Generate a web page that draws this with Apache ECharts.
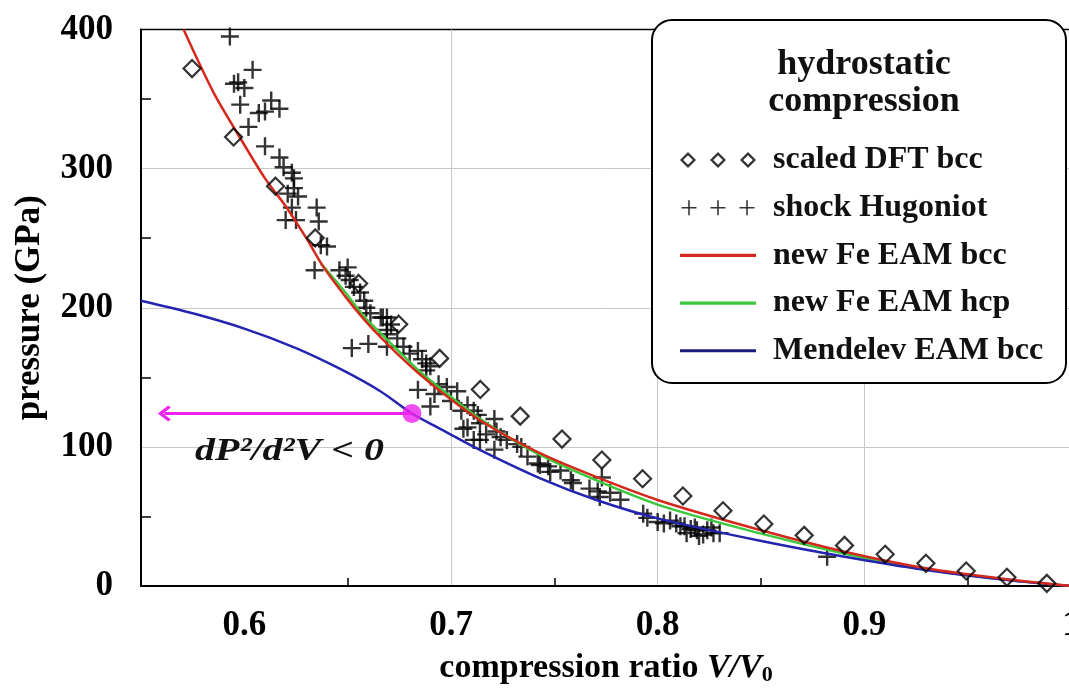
<!DOCTYPE html>
<html><head><meta charset="utf-8">
<script src="https://cdn.jsdelivr.net/npm/echarts@6/dist/echarts.min.js"></script>
<style>html,body{margin:0;padding:0;background:#fff}#c{width:1069px;height:695px}</style>
</head><body><div id="c"></div>
<script>
// ---- tick values ----
const xTickValues = [0.6, 0.7, 0.8, 0.9, 1.0];
const xMinorTickValues = [0.65, 0.75, 0.85, 0.95];
const yMin = 0, yMax = 400, yInterval = 100;

// ---- scaled DFT bcc (diamonds) ----
const dftV = [0.5747,0.5948,0.6151,0.6343,0.6553,0.6747,0.6945,0.7142,0.7335,0.7537,0.7730,0.7927,0.8122,0.8316,0.8514,0.8709,0.8904,0.9101,0.9298,0.9493,0.9690,0.9883];
const dftP = [371.9,322.8,287.4,250.2,217.5,188.2,163.6,141.3,122.1,105.6,90.5,77.1,64.7,54.1,44.5,36.4,29.2,22.8,16.3,10.8,6.3,1.9];

// ---- shock Hugoniot (crosses) ----
const hugV = [0.593,0.604,0.597,0.595,0.600,0.613,0.617,0.598,0.607,0.610,0.602,0.610,0.617,0.619,0.623,
  0.624,0.624,0.621,0.626,0.623,0.635,0.620,0.625,0.636,0.637,0.640,0.634,0.646,0.650,0.649,0.651,0.653,0.656,0.658,0.661,0.669,0.659,0.666,
  0.652,0.660,0.667,0.671,0.669,0.674,0.669,0.669,0.677,0.680,0.684,0.686,0.688,0.690,0.688,0.684,0.692,0.690,0.694,0.698,0.703,0.700,0.705,0.708,0.711,0.713,0.708,0.714,0.706,0.714,0.721,0.722,0.717,0.724,0.727,0.732,0.734,0.711,0.721,0.737,0.742,0.747,
  0.743,0.748,0.753,0.758,0.759,0.767,0.771,0.773,0.772,0.777,0.782,0.793,0.795,0.800,0.803,0.806,0.809,0.811,0.813,0.816,0.818,0.819,0.822,0.824,0.827,0.830,0.814,0.820,0.826,0.882];
const hugP = [395,371,362,361,358,349,343,346,340,341,330,316,308,301,297,
  293,286,282,280,272,272,263,263,262,245,244,227,227,229,223,220,215,211,205,196,193,200,193,
  171,174,193,188,181,178,184,172,172,167,169,163,160,158,155,141,138,129,145,143,140,133,126,130,126,123,114,117,113,105,120,111,109,107,105,102,100,105,98,93,88,86,
  87,82,83,76,74,70,68,78,64,67,62,52,49,46,45,47,45,43,43,41,42,40,37,40,38,38,38,36,42,21];

// ---- new Fe EAM bcc ----
const bccV = [0.5706,0.585,0.5972,0.610,0.620,0.630,0.6384,0.6489,0.6577,0.6658,0.6739,0.685,0.700,0.7142,0.7368,0.760,0.800,0.8496,0.8905,0.9298,0.969,1.0];
const bccP = [400,355,324,293,273,250,229,208,192,179,167,152,134,119,100,84.5,61.8,40.2,24.6,12.7,4.8,0];

// ---- new Fe EAM hcp ----
const hcpV = [0.637,0.6489,0.6577,0.6658,0.6739,0.685,0.700,0.7142,0.7368,0.760,0.800,0.8496,0.8905,0.9298,0.969,1.0];
const hcpP = [232,211,194,182,170,154,136,120,99,82.5,58.5,37.8,23.2,11.8,4.4,0];

// ---- Mendelev EAM bcc ----
const mendV = [0.550,0.575,0.600,0.625,0.6464,0.6658,0.6811,0.6948,0.7142,0.7432,0.770,0.800,0.8496,0.8905,0.9298,0.969,1.0];
const mendP = [205,196,185,171,156,140,124,113,97.7,77.4,62,48.6,32.5,21,11.5,4.3,0];

// ---- inflection marker and arrow ----
const markV = [0.6811], markP = [124];
const arrowEndV = 0.5613;

const zip = (a, b) => a.map((v, i) => [v, b[i]]);
const FONT = '"Liberation Serif","Times New Roman",serif';

const crossPath = 'path://M0,7.8H18V10.2H0Z M7.8,0H10.2V18H7.8Z';
function dia(c){return `M${c},0L${c+8},8L${c},16L${c-8},8Z M${c},3.2L${c-4.8},8L${c},12.8L${c+4.8},8Z`;}
function plus(c){return `M${c-7.5},7.2H${c+7.5}V8.8H${c-7.5}Z M${c-0.8},0.5H${c+0.8}V15.5H${c-0.8}Z`;}
const iconDia = 'path://' + dia(8) + ' ' + dia(38) + ' ' + dia(68);
const iconPlus = 'path://M0,0H0.01V0.01Z M75.99,15.99H76V16H75.99Z ' + plus(9) + ' ' + plus(38) + ' ' + plus(67);
const iconLine = 'path://M0,0H74V3H0Z';

const C_RED = '#d42a1e', C_GREEN = '#3cc83c', C_BLUE = '#2424b0', C_MAG = '#ee22ee';

const chart = echarts.init(document.getElementById('c'), null, {renderer:'canvas'});
chart.setOption({
  animation: false,
  backgroundColor: '#fff',
  grid: {left:141, top:29.5, right:-2, bottom:109, show:true, borderColor:'#000', borderWidth:1.5, containLabel:false, outerBoundsMode:'none'},
  xAxis: [{
    type:'value', min:0.55, max:1.0,
    axisLine:{show:true, onZero:false, lineStyle:{color:'#000', width:2}},
    axisTick:{show:false, customValues:xTickValues},
    axisLabel:{customValues:xTickValues, formatter:v => String(+v.toFixed(2)), fontFamily:FONT, fontWeight:'bold', fontSize:35, color:'#000', margin:22},
    splitLine:{show:true, showMinLine:false, showMaxLine:false, lineStyle:{color:'#c8c8c8', width:1}},
    name:'{a|compression ratio }{i|V/V}{s|0}', nameLocation:'middle', nameGap:64,
    nameTextStyle:{rich:{
      a:{fontFamily:FONT, fontWeight:'bold', fontSize:34, color:'#000'},
      i:{fontFamily:FONT, fontWeight:'bold', fontStyle:'italic', fontSize:34, color:'#000'},
      s:{fontFamily:FONT, fontWeight:'bold', fontSize:22, color:'#000', padding:[14,0,0,0]}
    }}
  },{
    type:'value', min:0.55, max:1.0, position:'bottom',
    axisLine:{show:false},
    axisTick:{show:true, inside:true, length:8, customValues:xMinorTickValues, lineStyle:{color:'#000', width:1.5}},
    axisLabel:{show:false}, splitLine:{show:false}
  }],
  yAxis: {
    type:'value', min:yMin, max:yMax, interval:yInterval,
    axisLine:{show:true, lineStyle:{color:'#000', width:2}},
    axisTick:{show:false, inside:true},
    minorTick:{show:true, splitNumber:2, length:10, lineStyle:{color:'#000', width:1.5}},
    axisLabel:{fontFamily:FONT, fontWeight:'bold', fontSize:35, color:'#000', margin:28},
    splitLine:{show:true, showMinLine:false, showMaxLine:false, lineStyle:{color:'#c8c8c8', width:1}},
    name:'pressure (GPa)', nameLocation:'middle', nameGap:94, nameRotate:90,
    nameTextStyle:{fontFamily:FONT, fontWeight:'bold', fontSize:35, color:'#000'}
  },
  legend: {
    orient:'vertical', left:675, top:137, z:10, selectedMode:false,
    itemWidth:76, itemHeight:16, itemGap:11.7, symbolKeepAspect:true,
    textStyle:{fontFamily:FONT, fontWeight:'bold', fontSize:32, color:'#111', lineHeight:36, padding:[0,0,0,12]},
    data:[
      {name:'scaled DFT bcc', icon:iconDia, itemStyle:{color:'#000', borderWidth:0}},
      {name:'shock Hugoniot', icon:iconPlus, itemStyle:{color:'#000', borderWidth:0}},
      {name:'new Fe EAM bcc', icon:iconLine, itemStyle:{color:C_RED, borderWidth:0}},
      {name:'new Fe EAM hcp', icon:iconLine, itemStyle:{color:C_GREEN, borderWidth:0}},
      {name:'Mendelev EAM bcc', icon:iconLine, itemStyle:{color:'#1c1c80', borderWidth:0}}
    ]
  },
  graphic: [
    {type:'rect', z:5, shape:{x:652, y:20, width:414, height:363, r:20}, style:{fill:'#fff', stroke:'#000', lineWidth:2}},
    {type:'text', z:11, x:864, y:46, style:{text:'hydrostatic\ncompression', font:'bold 36px ' + FONT, textAlign:'center', textVerticalAlign:'top', lineHeight:37, fill:'#111'}},
    {type:'text', z:11, x:195, y:452, scaleX:1.25, style:{text:'dP\u00b2/d\u00b2V < 0', font:'italic bold 32px ' + FONT, textAlign:'left', textVerticalAlign:'middle', fill:'#111'}}
  ],
  series: [
    {name:'shock Hugoniot', type:'scatter', data:zip(hugV, hugP), symbol:crossPath, symbolSize:18, itemStyle:{color:'#000'}, z:2, silent:true},
    {name:'new Fe EAM hcp', type:'line', data:zip(hcpV, hcpP), smooth:0.3, showSymbol:false, lineStyle:{color:C_GREEN, width:2.5}, itemStyle:{color:C_GREEN}, z:3, silent:true},
    {name:'Mendelev EAM bcc', type:'line', data:zip(mendV, mendP), smooth:0.3, showSymbol:false, lineStyle:{color:C_BLUE, width:2.5}, itemStyle:{color:C_BLUE}, z:3, silent:true},
    {name:'new Fe EAM bcc', type:'line', data:zip(bccV, bccP), smooth:0.3, showSymbol:false, lineStyle:{color:C_RED, width:2.5}, itemStyle:{color:C_RED}, z:3, silent:true},
    {name:'scaled DFT bcc', type:'scatter', data:zip(dftV, dftP), symbol:'diamond', symbolSize:17, itemStyle:{color:'rgba(255,255,255,0)', borderColor:'#000', borderWidth:2.2}, z:4, silent:true},
    {name:'inflection', type:'scatter', data:zip(markV, markP), symbolSize:19, itemStyle:{color:C_MAG}, z:4, silent:true,
      markLine:{silent:true, symbol:['none','path://M10,0L20,10L17.5,12.5L10,5L2.5,12.5L0,10Z'], symbolSize:[16,13],
        lineStyle:{color:C_MAG, width:3, type:'solid'}, label:{show:false},
        data:[[{coord:[markV[0], markP[0]]},{coord:[arrowEndV, markP[0]]}]]}}
  ]
});
</script></body></html>
